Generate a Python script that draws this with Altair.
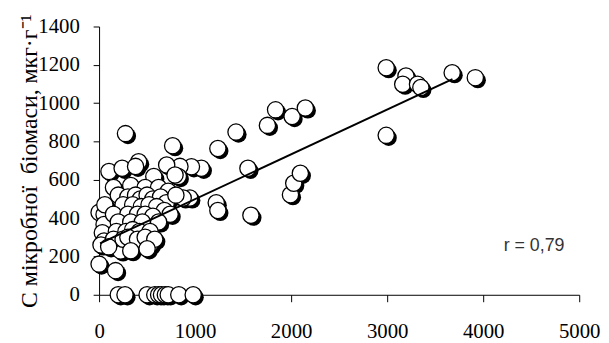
import altair as alt
import pandas as pd

# Scatter points (x: reading on the horizontal axis, y: C мікробної біомаси)
x_vals = [
    2990, 3196, 3162, 3316, 3351, 3677, 3918, 2990,
    1838, 1753, 2010, 2148,
    1426, 1237, 1550, 1065, 962,
    1220, 1237, 1581,
    1993, 2027, 2096,
    275, 766,
    945, 876, 842, 825, 103, 240, 412, 380, 570, 704, 791,
    0, 52, 52, 34, 52, 20, 0, 172, 224, 326, 430, 533,
    150, 330, 480, 620, 720,
    200, 300, 380, 430, 500, 560, 640, 700, 800,
    60, 250, 350, 440, 520, 600, 680,
    150, 300, 400, 480, 560, 740,
    200, 330, 450, 620,
    180, 280, 350, 420, 530,
    150, 250, 300, 400, 480, 580,
    100, 330, 500,
    200, 270, 500, 580, 620, 650, 690, 720, 830, 980,
]
y_vals = [
    1185, 1142, 1099, 1099, 1082, 1159, 1133, 832,
    965, 884, 930, 975,
    849, 763, 660, 660, 668,
    480, 440, 415,
    522, 582, 634,
    841, 778,
    505, 505, 670, 617, 643, 660, 694, 670, 617, 677, 625,
    430, 419, 367, 324, 281, 260, 160, 126, 229, 264, 264, 264,
    560, 570, 560, 560, 540,
    520, 510, 520, 500, 520, 500, 510, 480, 520,
    470, 470, 470, 460, 470, 460, 440,
    420, 420, 420, 420, 410, 420,
    380, 380, 380, 380,
    330, 330, 340, 330, 330,
    290, 290, 300, 290, 300, 290,
    250, 230, 240,
    0, 0, 0, 0, 0, 0, 0, 0, 0, 0,
]

# Trend line end points
line_x = [10, 3680]
line_y = [268, 1125]

# Annotation
annot_text = ["r = 0,79"]
annot_x = [4530]
annot_y = [253]

x_ticks = [0, 1000, 2000, 3000, 4000, 5000]
y_ticks = [0, 200, 400, 600, 800, 1000, 1200, 1400]

pts = pd.DataFrame({"x": x_vals, "y": y_vals})
line_df = pd.DataFrame({"x": line_x, "y": line_y})
annot_df = pd.DataFrame({"x": annot_x, "y": annot_y, "t": annot_text})

serif = "Liberation Serif"

x_scale = alt.Scale(domain=[0, 5000], nice=False)
y_scale = alt.Scale(domain=[0, 1400], nice=False)

x_axis = alt.Axis(
    values=x_ticks, title=None, grid=False, labelFont=serif, labelFontSize=21,
    labelColor="black", tickColor="black", domainColor="black", tickSize=7,
    labelPadding=19, labelFlush=False, labelOverlap=False, format="d",
)
y_axis = alt.Axis(
    values=y_ticks, grid=False, labelFont=serif, labelFontSize=21,
    labelColor="black", tickColor="black", domainColor="black", tickSize=6,
    labelPadding=14, labelFlush=False, labelOverlap=False, format="d",
    title="C мікробної\u00a0\u00a0біомаси, мкг·г⁻¹",
    titleFont=serif, titleFontSize=24, titleFontWeight="normal",
    titleColor="black", titleX=-63, titleBaseline="alphabetic",
)

X = alt.X("x:Q", scale=x_scale, axis=x_axis)
Y = alt.Y("y:Q", scale=y_scale, axis=y_axis)

shadow = alt.Chart(pts).mark_circle(
    size=270, fill="black", opacity=1, xOffset=2.5, yOffset=2.5
).encode(x=X, y=Y)

circles = alt.Chart(pts).mark_circle(
    size=270, fill="white", stroke="black", strokeWidth=1.3, opacity=1, fillOpacity=1
).encode(x=X, y=Y)

trend = alt.Chart(line_df).mark_line(color="black", strokeWidth=2).encode(x=X, y=Y)

annot = alt.Chart(annot_df).mark_text(
    font="Liberation Sans", fontSize=18, color="#333333", align="center", baseline="middle"
).encode(x=X, y=Y, text="t:N")

chart = alt.layer(shadow, circles, trend, annot).properties(
    width=485, height=271,
    padding={"left": 92, "top": 17, "right": 22, "bottom": 45},
    autosize=alt.AutoSizeParams(type="none"),
).configure_view(stroke=None)

chart.save("out.html", embed_options={"renderer": "svg", "actions": False})
